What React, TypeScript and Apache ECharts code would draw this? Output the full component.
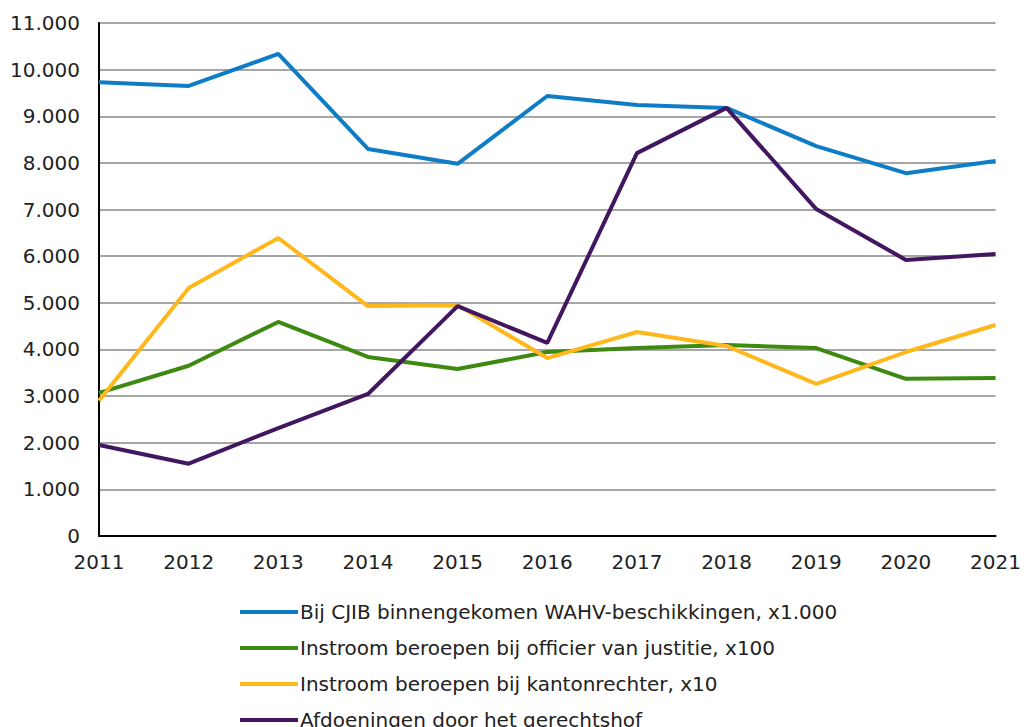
import React, { useEffect, useRef } from "react";
import * as echarts from "echarts";

const years = ["2011", "2012", "2013", "2014", "2015", "2016", "2017", "2018", "2019", "2020", "2021"];
const cjib = [9730, 9650, 10340, 8300, 7980, 9435, 9240, 9180, 8360, 7780, 8040];
const officier = [3070, 3650, 4590, 3840, 3580, 3945, 4030, 4095, 4030, 3370, 3390];
const kantonrechter = [2900, 5320, 6390, 4930, 4950, 3815, 4375, 4075, 3260, 3945, 4525];
const gerechtshof = [1950, 1550, 2315, 3045, 4930, 4140, 8210, 9180, 7010, 5920, 6045];
const seriesNames = [
  "Bij CJIB binnengekomen WAHV-beschikkingen, x1.000",
  "Instroom beroepen bij officier van justitie, x100",
  "Instroom beroepen bij kantonrechter, x10",
  "Afdoeningen door het gerechtshof",
];
const colors = ["#0E7CC6", "#3E8A11", "#FFB81C", "#43175F"];

const fmt = (v: number) => String(v).replace(/\B(?=(\d{3})+(?!\d))/g, ".");

export default function App() {
  const ref = useRef<HTMLDivElement>(null);
  useEffect(() => {
    if (!ref.current) return;
    const chart = echarts.init(ref.current, null, { renderer: "svg" });
    const data = [cjib, officier, kantonrechter, gerechtshof];
    chart.setOption({
      animation: false,
      textStyle: { fontFamily: "DejaVu Sans" },
      grid: { left: 99, right: 27, top: 23, bottom: 191, containLabel: false },
      legend: seriesNames.map((name, i) => ({
        orient: "vertical",
        left: 240,
        top: 602 + i * 36,
        padding: 0,
        itemWidth: 58,
        itemHeight: 4,
        icon: "rect",
        textStyle: { fontSize: 20, color: "#222", fontFamily: "DejaVu Sans", padding: [0, 0, 0, -3] },
        data: [name],
      })),
      xAxis: {
        type: "category",
        data: years,
        boundaryGap: false,
        axisLine: { lineStyle: { color: "#000", width: 2 } },
        axisTick: { show: false },
        axisLabel: { fontSize: 20, color: "#222", margin: 16 },
        splitLine: { show: false },
      },
      yAxis: {
        type: "value",
        min: 0,
        max: 11000,
        interval: 1000,
        axisLine: { show: true, lineStyle: { color: "#000", width: 2 } },
        axisTick: { show: false },
        axisLabel: { fontSize: 20, color: "#222", margin: 19, formatter: (v: number) => fmt(v) },
        splitLine: { lineStyle: { color: "#A6A6A6", width: 2 } },
      },
      series: seriesNames.map((name, i) => ({
        name,
        type: "line",
        data: data[i],
        symbol: "none",
        lineStyle: { color: colors[i], width: 4 },
        itemStyle: { color: colors[i] },
      })),
    });
    return () => chart.dispose();
  }, []);
  return <div ref={ref} style={{ width: 1024, height: 727, position: "absolute", left: 0, top: 0 }} />;
}
